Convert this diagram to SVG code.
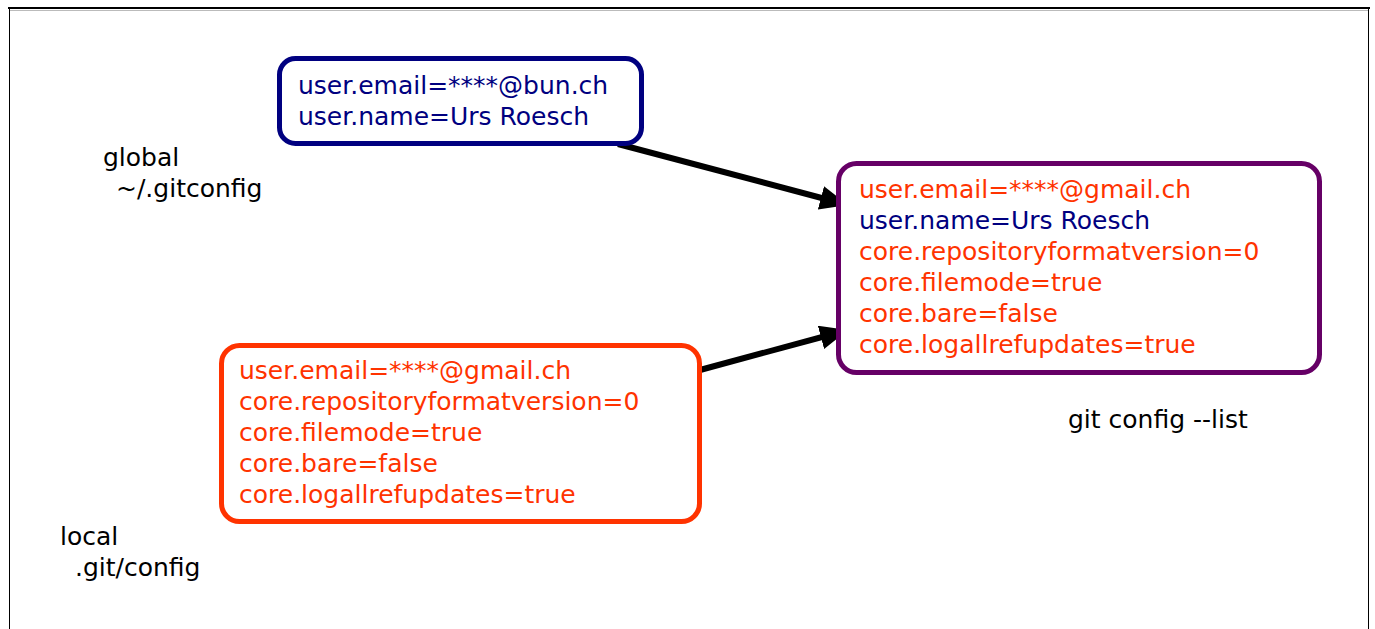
<svg xmlns="http://www.w3.org/2000/svg" width="1375" height="629" viewBox="0 0 1375 629">
<style>
text{font-family:"DejaVu Sans",Verdana,sans-serif;font-size:25px}
.b{fill:#000080}.o{fill:#ff3300}.k{fill:#000}
.box{fill:#fff;stroke-width:5}
.con{stroke:#000;stroke-width:6;fill:none}
</style>
<defs>
<marker id="ah" markerUnits="userSpaceOnUse" markerWidth="30" markerHeight="26" refX="28" refY="12" orient="auto">
<path d="M0,0 L28,12 L0,24 Z" fill="#000"/>
</marker>
</defs>
<rect width="1375" height="629" fill="#fff"/>
<g id="frame" fill="none">
<line x1="9" y1="10.5" x2="1369" y2="10.5" stroke="#bbb" stroke-width="1"/>
<line x1="8" y1="8" x2="1370" y2="8" stroke="#000" stroke-width="2"/>
<line x1="9.5" y1="8" x2="9.5" y2="629" stroke="#000" stroke-width="1"/>
<line x1="1368.5" y1="8" x2="1368.5" y2="629" stroke="#000" stroke-width="1"/>
</g>
<g id="connectors">
<line class="con" x1="618" y1="144" x2="848" y2="205" marker-end="url(#ah)"/>
<line class="con" x1="700" y1="370" x2="848" y2="330" marker-end="url(#ah)"/>
</g>
<g id="global">
<rect class="box" x="279.5" y="58.5" width="362" height="85" rx="16" stroke="#000080"/>
<text class="b" x="298" y="94">user.email=****@bun.ch</text>
<text class="b" x="298" y="125">user.name=Urs Roesch</text>
</g>
<g id="merged">
<rect class="box" x="838.5" y="163.5" width="481" height="209" rx="18" stroke="#660066"/>
<text class="o" x="859" y="198">user.email=****@gmail.ch</text>
<text class="b" x="859" y="229">user.name=Urs Roesch</text>
<text class="o" x="859" y="260">core.repositoryformatversion=0</text>
<text class="o" x="859" y="291">core.filemode=true</text>
<text class="o" x="859" y="322">core.bare=false</text>
<text class="o" x="859" y="353">core.logallrefupdates=true</text>
</g>
<g id="local">
<rect class="box" x="221.5" y="345.5" width="478" height="176" rx="18" stroke="#ff3300"/>
<text class="o" x="239" y="379">user.email=****@gmail.ch</text>
<text class="o" x="239" y="410">core.repositoryformatversion=0</text>
<text class="o" x="239" y="441">core.filemode=true</text>
<text class="o" x="239" y="472">core.bare=false</text>
<text class="o" x="239" y="503">core.logallrefupdates=true</text>
</g>
<g id="labels">
<text class="k" x="103" y="166">global</text>
<text class="k" x="116" y="197">~/.gitconfig</text>
<text class="k" x="60" y="545">local</text>
<text class="k" x="75" y="576">.git/config</text>
<text class="k" x="1068" y="428">git config --list</text>
</g>
</svg>
